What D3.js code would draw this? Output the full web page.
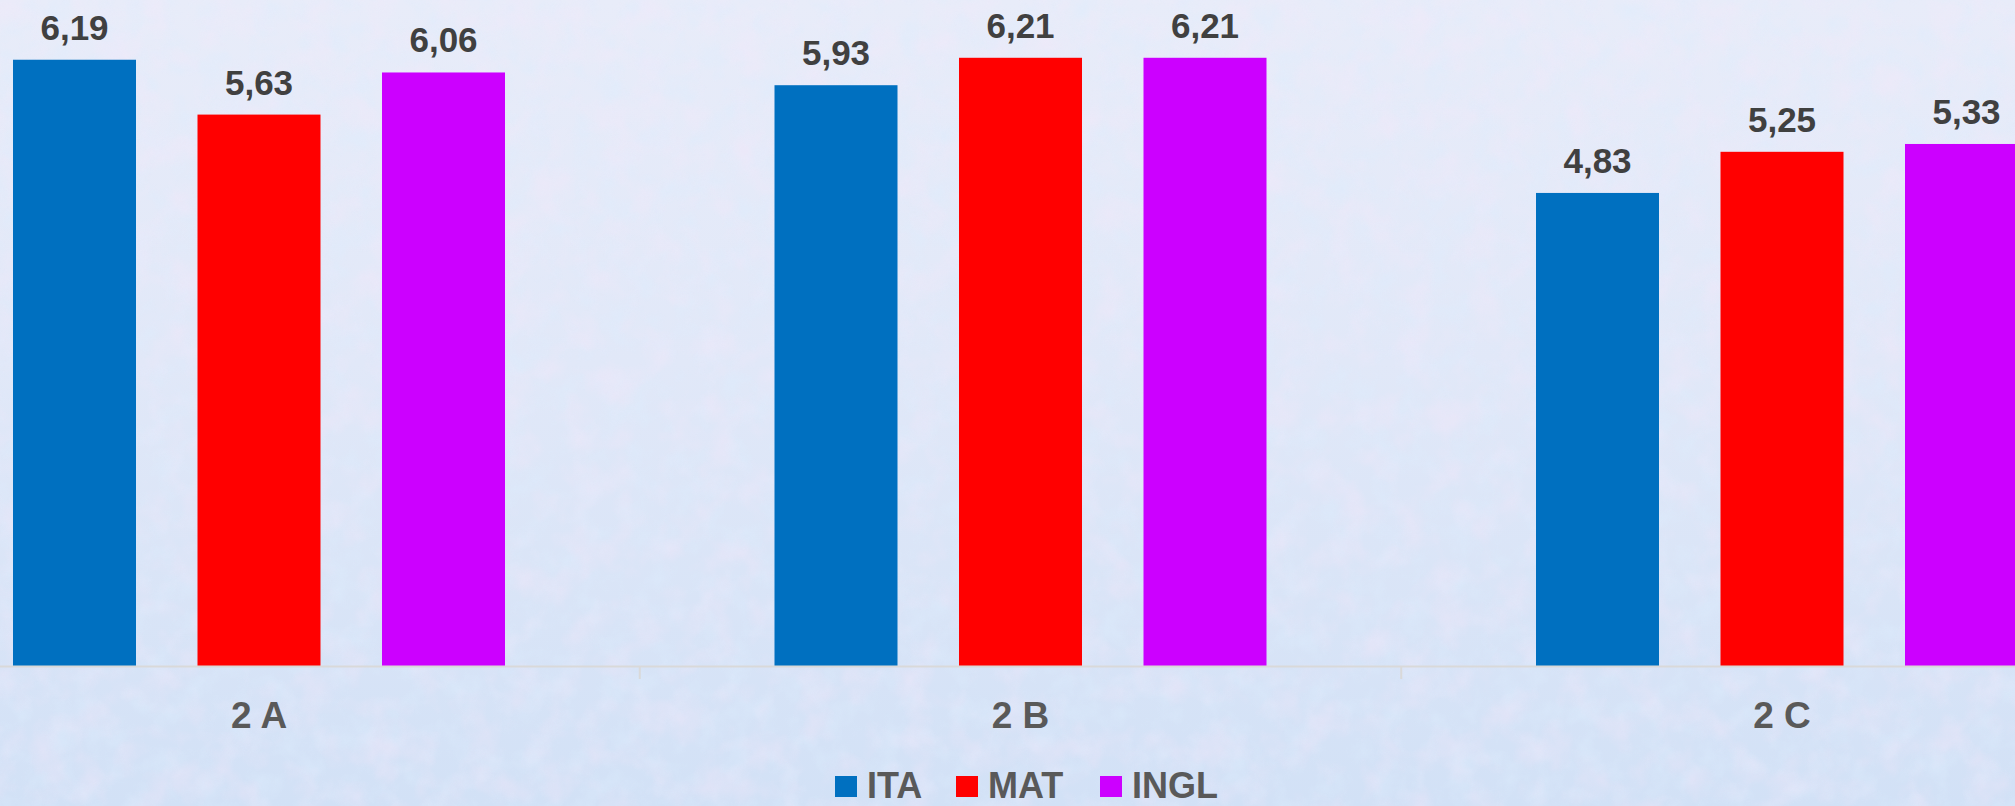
<!DOCTYPE html>
<html><head><meta charset="utf-8">
<script src="https://cdn.jsdelivr.net/npm/d3@7"></script>
<style>html,body{margin:0;padding:0;overflow:hidden;background:#dde6f6}</style>
</head><body>
<svg id="chart" width="2015" height="806"></svg>
<script>
const categories = ["2 A", "2 B", "2 C"];
const seriesNames = ["ITA", "MAT", "INGL"];
const ITA = [6.19, 5.93, 4.83];
const MAT = [5.63, 6.21, 5.25];
const INGL = [6.06, 6.21, 5.33];
const labelsIT = v => v.toFixed(2).replace(".", ",");

const seriesValues = {ITA, MAT, INGL};
const colors = {ITA: "#0070c0", MAT: "#ff0000", INGL: "#cc00ff"};

const W = 2015, H = 806;
const svg = d3.select("#chart");
const defs = svg.append("defs");
const lg = defs.append("linearGradient").attr("id","bg").attr("x1",0).attr("y1",0).attr("x2",0).attr("y2",1);
lg.append("stop").attr("offset","0%").attr("stop-color","#e8ecf9");
lg.append("stop").attr("offset","45%").attr("stop-color","#e1e8f8");
lg.append("stop").attr("offset","100%").attr("stop-color","#d2e1f6");
function noise(id, freq, seed, rgb) {
  const f = defs.append("filter").attr("id",id).attr("x",0).attr("y",0).attr("width","100%").attr("height","100%");
  f.append("feTurbulence").attr("type","fractalNoise").attr("baseFrequency",freq).attr("numOctaves",3).attr("seed",seed).attr("result","t");
  f.append("feColorMatrix").attr("in","t").attr("type","matrix")
   .attr("values",`0 0 0 0 ${rgb[0]}  0 0 0 0 ${rgb[1]}  0 0 0 0 ${rgb[2]}  -2.2 0 0 0 1.25`);
}
noise("n1", "0.04", 4, [0.72, 0.84, 0.98]);
noise("n2", "0.03", 9, [0.93, 0.80, 0.95]);
svg.append("rect").attr("width",W).attr("height",H).attr("fill","url(#bg)");
svg.append("rect").attr("width",W).attr("height",H).attr("filter","url(#n1)").attr("opacity",0.45);
svg.append("rect").attr("width",W).attr("height",H).attr("filter","url(#n2)").attr("opacity",0.35);

const baseY = 666;
const y = d3.scaleLinear().domain([0, 6.8]).range([baseY, 0]);
const x0 = d3.scaleBand().domain(categories).range([-121.75, 2162.75]).padding(0);
const x1 = d3.scaleBand().domain(seriesNames)
  .range([(x0.bandwidth()-492)/2, (x0.bandwidth()+492)/2]).paddingInner(1/3).paddingOuter(0);

const g = svg.append("g");
categories.slice(1).forEach(c => {
  g.append("line").attr("x1", x0(c)).attr("x2", x0(c)).attr("y1", baseY).attr("y2", baseY+13)
   .attr("stroke","#d9d9d9").attr("stroke-width",2);
});

const groups = g.selectAll("g.grp").data(categories).join("g").attr("class","grp")
  .attr("transform", c => `translate(${x0(c)},0)`);
groups.selectAll("rect").data((c,i) => seriesNames.map(s => ({s, v: seriesValues[s][i]})))
  .join("rect")
  .attr("x", d => x1(d.s)).attr("width", x1.bandwidth())
  .attr("y", d => y(d.v)).attr("height", d => baseY - y(d.v))
  .attr("fill", d => colors[d.s]);
groups.selectAll("text").data((c,i) => seriesNames.map(s => ({s, v: seriesValues[s][i]})))
  .join("text")
  .attr("x", d => x1(d.s) + x1.bandwidth()/2).attr("y", d => y(d.v) - 20)
  .attr("text-anchor","middle").attr("font-family","Liberation Sans, Arial, sans-serif")
  .attr("font-weight","bold").attr("font-size",35).attr("fill","#404040")
  .text(d => labelsIT(d.v));

g.append("line").attr("x1",0).attr("x2",W).attr("y1",baseY+0.5).attr("y2",baseY+0.5)
 .attr("stroke","#d9d9d9").attr("stroke-width",2);

g.selectAll("text.cat").data(categories).join("text").attr("class","cat")
  .attr("x", c => x0(c) + x0.bandwidth()/2).attr("y", 728)
  .attr("text-anchor","middle").attr("font-family","Liberation Sans, Arial, sans-serif")
  .attr("font-weight","bold").attr("font-size",37).attr("fill","#595959")
  .text(c => c);

const legendX = [835, 956, 1100];
const leg = svg.append("g");
seriesNames.forEach((s, i) => {
  leg.append("rect").attr("x", legendX[i]).attr("y", 776).attr("width", 22).attr("height", 21).attr("fill", colors[s]);
  leg.append("text").attr("x", legendX[i] + 32).attr("y", 798)
    .attr("font-family","Liberation Sans, Arial, sans-serif").attr("font-weight","bold")
    .attr("font-size",36).attr("fill","#595959").text(s);
});
</script>
</body></html>
